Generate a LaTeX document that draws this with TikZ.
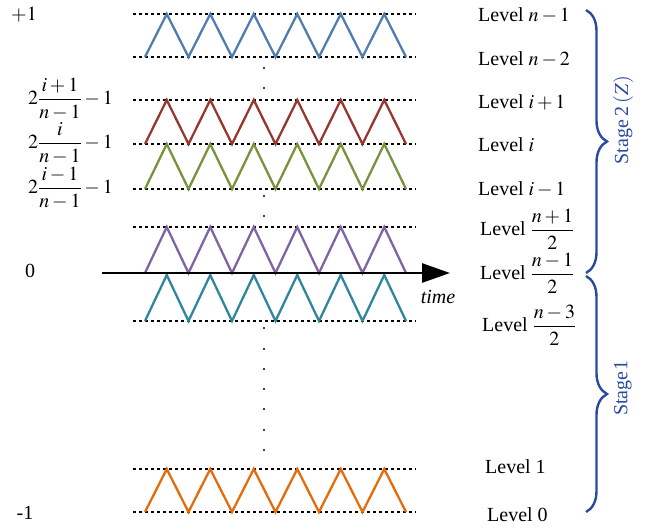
\documentclass[tikz,border=0pt]{standalone}
\usepackage{amsmath}
\usepackage{mathptmx}
\usepackage[no-math]{fontspec}
\setmainfont{Liberation Serif}
\usepackage{tikz}
\usetikzlibrary{arrows.meta,decorations.pathreplacing}
\definecolor{waveblue}{RGB}{79,125,176}
\definecolor{wavered}{RGB}{150,55,48}
\definecolor{wavegreen}{RGB}{119,147,60}
\definecolor{wavepurple}{RGB}{128,100,162}
\definecolor{waveteal}{RGB}{49,133,156}
\definecolor{waveorange}{RGB}{228,108,10}
\definecolor{stageblue}{RGB}{42,74,158}
% one triangle wave, from the lower line up to the upper one
\newcommand{\trianglewave}[3]{%
  \draw[wave,#1] (145,#3) \foreach \k in {1,...,6} {-- ++(21.75,#2-#3) -- ++(21.75,#3-#2)};}
\begin{document}
\begin{tikzpicture}[x=1pt,y=-1pt,font=\fontsize{20}{24}\selectfont,
  levelline/.style={line width=2.2pt,dash pattern=on 3pt off 3pt},
  wave/.style={line width=2.3pt,line join=miter},
  lbl/.style={inner sep=0pt},
  stagebrace/.style={decorate,decoration={brace,amplitude=21pt},line width=2.4pt,draw=stageblue},
  stagelbl/.style={inner sep=0pt,rotate=90,text=stageblue}]
\useasboundingbox (0,0) rectangle (653,529);
% level lines
\foreach \y in {14,57,100,144,189,227,321,469,512}
  \draw[levelline] (133,\y) -- (416,\y);
% vertical dots
\foreach \y in {68,88,196,216,328,349,369,389,409,430,450}
  \fill (264,\y) circle (1.2pt);
% waves
\trianglewave{waveblue}{14}{57}
\trianglewave{wavered}{100}{144}
\trianglewave{wavegreen}{144}{189}
\trianglewave{wavepurple}{227}{273}
\trianglewave{waveteal}{275}{321}
\trianglewave{waveorange}{469}{512}
% time axis
\coordinate (t0) at (102,273);
\coordinate (t1) at (450,273);
\draw[line width=2.8pt,-{Triangle[length=28pt,width=19pt]}] (t0) -- (t1);
\node[lbl,font=\fontsize{20}{24}\selectfont\itshape] (time) at (438,297) {time};
% left values
\node[lbl] (vtop) at (24,15) {$+1$};
\node[lbl,anchor=east] (vip) at (113,99) {$2\dfrac{i+1}{n-1}-1$};
\node[lbl,anchor=east] (vi) at (113,143) {$2\dfrac{i}{n-1}-1$};
\node[lbl,anchor=east] (vim) at (113,188) {$2\dfrac{i-1}{n-1}-1$};
\node[lbl] (vzero) at (30,271) {0};
\node[lbl] (vbot) at (25,513) {-1};
% level names
\node[lbl,anchor=west] (lntop) at (478,15) {Level $n-1$};
\node[lbl,anchor=west] (lnsec) at (478,59) {Level $n-2$};
\node[lbl,anchor=west] (lip) at (478,102) {Level $i+1$};
\node[lbl,anchor=west] (li) at (478,145) {Level $i$};
\node[lbl,anchor=west] (lim) at (478,189) {Level $i-1$};
\node[lbl,anchor=west] (lhup) at (480,229) {Level $\dfrac{n+1}{2}$};
\node[lbl,anchor=west] (lhmid) at (480,273) {Level $\dfrac{n-1}{2}$};
\node[lbl,anchor=west] (lhlow) at (482,325) {Level $\dfrac{n-3}{2}$};
\node[lbl,anchor=west] (lone) at (485,467) {Level 1};
\node[lbl,anchor=west] (lzero) at (487,515) {Level 0};
% stages
\coordinate (s2top) at (586,10);
\coordinate (s2bot) at (586,273);
\coordinate (s1top) at (586,276);
\coordinate (s1bot) at (586,512);
\draw[stagebrace] (s2top) -- (s2bot);
\draw[stagebrace] (s1top) -- (s1bot);
\node[stagelbl] (stagetwo) at (623,120) {Stage\,2\,$(Z)$};
\node[stagelbl] (stageone) at (623,388) {Stage\kern1pt 1};
\end{tikzpicture}
\end{document}
